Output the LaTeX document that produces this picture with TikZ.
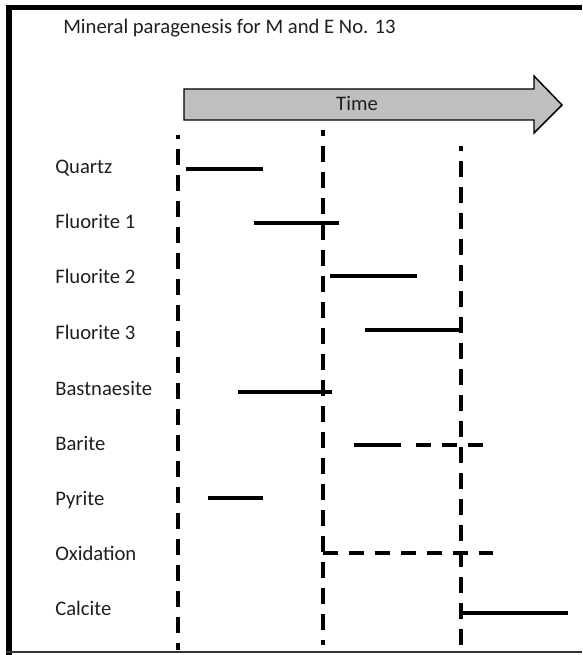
\documentclass[tikz,border=0pt]{standalone}
\usepackage{fontspec}
\setmainfont{Carlito}
\begin{document}
\begin{tikzpicture}[x=0.75pt,y=-0.75pt,
  lbl/.style={anchor=base west,inner sep=0pt,text=black!88,font=\fontsize{15.5pt}{18pt}\selectfont},
  vdash/.style={line width=3.4pt,dash pattern=on 12pt off 7.5pt},
  bar/.style={line width=3pt},
  thinbar/.style={line width=2.3pt},
  dbar/.style={line width=3pt,dash pattern=on 11pt off 8.5pt}]
\useasboundingbox (0,0) rectangle (582,655);
% frame
\fill[black] (6,5) rectangle (12,655);
\fill[black] (6,5) rectangle (582,10);
\draw[black!80,line width=1.2pt] (6,652) -- (582,652);
% title
\node[lbl] (title) at (63,34) {Mineral paragenesis for M and E No. 13};
% arrow
\draw[fill=black!25,line width=1.1pt,line join=miter] (184,89) -- (534,89) -- (534,76) -- (562,105) -- (534,133) -- (534,120) -- (184,120) -- cycle;
\node[lbl,anchor=base] (time) at (357,111) {Time};
% vertical dashed lines
\draw[vdash,line width=3.6pt,dash phase=8.8pt] (178,135) -- (178,650);
\draw[vdash,line width=2.6pt,dash phase=7.3pt] (323,130) -- (323,645);
\draw[vdash,dash phase=8pt] (461,146) -- (461,655);
% labels
\node[lbl] (quartz) at (55,174) {Quartz};
\node[lbl] (fl1) at (55,229) {Fluorite 1};
\node[lbl] (fl2) at (55,284) {Fluorite 2};
\node[lbl] (fl3) at (55,339) {Fluorite 3};
\node[lbl] (bast) at (55,395) {Bastnaesite};
\node[lbl] (barite) at (55,450) {Barite};
\node[lbl] (pyrite) at (55,505) {Pyrite};
\node[lbl] (oxid) at (55,560) {Oxidation};
\node[lbl] (calc) at (55,615) {Calcite};
% bars
\draw[bar] (186,169) -- (263,169);
\draw[bar] (254,223) -- (339,223);
\draw[bar] (330,276) -- (417,276);
\draw[thinbar] (365,330) -- (461,330);
\draw[thinbar] (238,392) -- (332,392);
\draw[bar] (354,445) -- (401,445);
\draw[dbar] (416,445) -- (485,445);
\draw[bar] (208,498) -- (263,498);
\draw[dbar] (323,553) -- (493,553);
\draw[bar] (461,613) -- (568,613);
\end{tikzpicture}
\end{document}
